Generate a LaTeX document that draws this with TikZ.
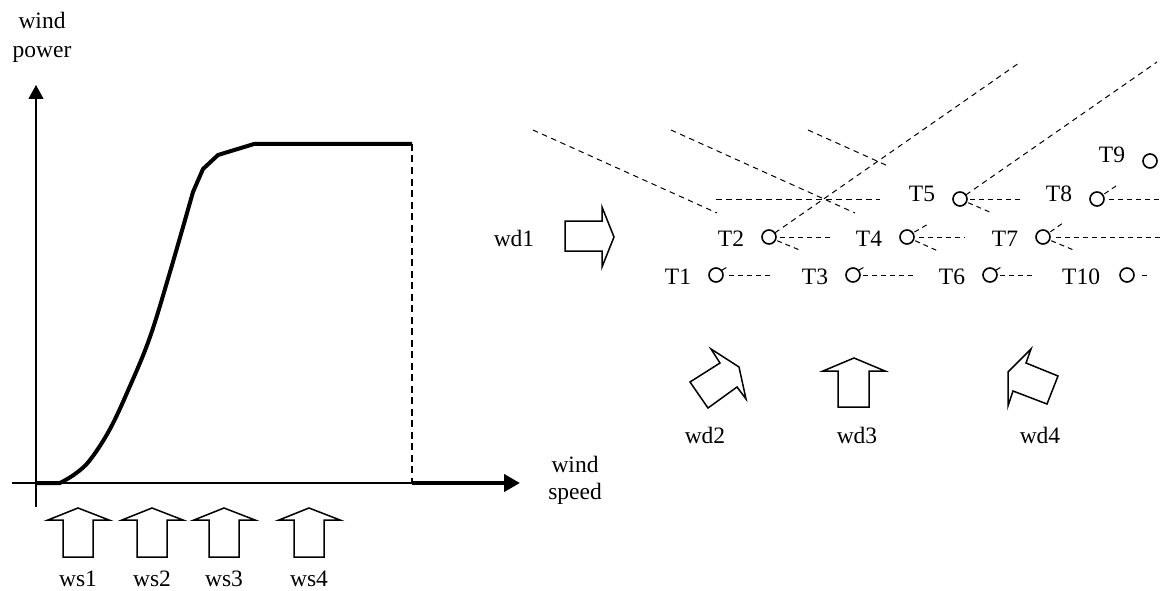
\documentclass[tikz,border=0pt]{standalone}
\usepackage{fontspec}
\setmainfont{Liberation Serif}
\usetikzlibrary{arrows.meta}
\begin{document}
\begin{tikzpicture}[x=1pt,y=-1pt,
  lbl/.style={font=\fontsize{23.5}{28}\selectfont, inner sep=0pt, outer sep=0pt},
  turb/.style={circle, draw, line width=1.6pt, minimum size=14pt, inner sep=0pt, outer sep=0pt},
  wake/.style={line width=1pt, dash pattern=on 5pt off 4pt},
  longwake/.style={line width=1pt, dash pattern=on 5.5pt off 4.5pt},
  tick/.style={line width=1pt},
  bigarrow/.style={draw, line width=1.5pt, line join=miter, miter limit=20},
  axis/.style={line width=1.2pt},
  powercurve/.style={line width=4pt, line join=round},
  cutout/.style={line width=2pt, dash pattern=on 7pt off 4.5pt}
]
\useasboundingbox (0,0) rectangle (1162,591);

% ---------------- power curve -----------------
\draw[axis] (12,483) -- (505,483);
\draw[axis, -{Triangle[length=14pt,width=15pt]}] (36,507) -- (36,85);
\draw[powercurve] (36,483) -- (60,483)
  -- plot[smooth, tension=0.6] coordinates {(60,483) (75,474) (90,460) (110,429) (130,386) (150,337) (170,272) (193,192)}
  -- (203,169) -- (218,155) -- (254,144) -- (412,144);
\draw[cutout] (412,144) -- (412,483);
\draw[line width=4pt, -{Triangle[length=16pt,width=17pt]}] (412,483) -- (520,483);

\node[lbl, anchor=base] (wpa) at (42,29) {wind};
\node[lbl, anchor=base] (wpb) at (42,58) {power};
\node[lbl, anchor=base] (wsa) at (575,472) {wind};
\node[lbl, anchor=base] (wsb) at (575,499) {speed};

% wind speed arrows
\foreach \cx/\n in {78/1,152/2,224/3,309/4}{
  \draw[bigarrow] (\cx-15,557) -- (\cx-15,520) -- (\cx-30,520) -- (\cx,508)
     -- (\cx+31,520) -- (\cx+15,520) -- (\cx+15,557) -- cycle;
  \node[lbl, anchor=base] (ws\n) at (\cx,586) {ws\n};
}

% ---------------- wind farm -----------------
\node[turb] (T1) at (716,275) {};
\node[turb] (T2) at (769,237) {};
\node[turb] (T3) at (853,275) {};
\node[turb] (T4) at (907,237) {};
\node[turb] (T5) at (960,199) {};
\node[turb] (T6) at (990,275) {};
\node[turb] (T7) at (1043,237) {};
\node[turb] (T8) at (1097,199) {};
\node[turb] (T9) at (1150,161) {};
\node[turb] (T10) at (1127,275) {};

\node[lbl, anchor=base east] (L1) at (691,284) {T1};
\node[lbl, anchor=base east] (L2) at (744,246) {T2};
\node[lbl, anchor=base east] (L3) at (828,284) {T3};
\node[lbl, anchor=base east] (L4) at (882,246) {T4};
\node[lbl, anchor=base east] (L5) at (935,201) {T5};
\node[lbl, anchor=base east] (L6) at (965,284) {T6};
\node[lbl, anchor=base east] (L7) at (1018,246) {T7};
\node[lbl, anchor=base east] (L8) at (1072,201) {T8};
\node[lbl, anchor=base east] (L9) at (1125,163) {T9};
\node[lbl, anchor=base east] (L10) at (1100,284) {T10};

% free ends of wake lines
\coordinate (h1) at (773,275);
\coordinate (h2) at (830,237);
\coordinate (h3) at (913,275);
\coordinate (h4) at (965,237);
\coordinate (h5) at (1020,199);
\coordinate (h6) at (1035,275);
\coordinate (h7) at (1160,237);
\coordinate (h8) at (1160,199);
\coordinate (h10) at (1147,275);
\coordinate (d2) at (802,251);
\coordinate (d4) at (938,251);
\coordinate (d5) at (992,213);
\coordinate (d7) at (1076,251);
\coordinate (u4) at (930,223);
\coordinate (u7) at (1063,223);
\coordinate (u8) at (1116,186);
\coordinate (e2) at (1019,63);
\coordinate (e5) at (1157,62);

% horizontal wakes
\draw[wake, shorten <=6pt] (T1.east) -- (h1);
\draw[wake, shorten <=4pt] (T2.east) -- (h2);
\draw[wake, shorten <=3pt] (T3.east) -- (h3);
\draw[wake, shorten <=5pt] (T4.east) -- (h4);
\draw[wake, shorten <=3pt] (T5.east) -- (h5);
\draw[wake, shorten <=3pt] (T6.east) -- (h6);
\draw[wake, shorten <=6pt] (T7.east) -- (h7);
\draw[wake, shorten <=5pt] (T8.east) -- (h8);
\draw[wake, shorten <=8pt] (T10.east) -- (h10);
% diagonal wakes
\draw[wake, shorten <=2pt] (T2.-25) -- (d2);
\draw[wake, shorten <=2pt] (T4.-25) -- (d4);
\draw[wake, shorten <=2pt] (T5.-25) -- (d5);
\draw[wake, shorten <=2pt] (T7.-25) -- (d7);
\draw[wake, shorten <=2pt] (T4.35) -- (u4);
\draw[wake, shorten <=2pt] (T7.35) -- (u7);
\draw[wake, shorten <=2pt] (T8.35) -- (u8);
\draw[longwake] (T2.35) -- (e2);
\draw[longwake] (T5.35) -- (e5);
% small ticks
\draw[tick] (T1.40) -- ++(5,-3);
\draw[tick] (T3.40) -- ++(5,-3);
\draw[tick] (T6.40) -- ++(5,-3);

% wake boundaries
\coordinate (a1) at (533,130); \coordinate (a2) at (717,213);
\coordinate (b1) at (671,130); \coordinate (b2) at (855,213);
\coordinate (c1) at (808,130); \coordinate (c2) at (888,166);
\coordinate (f1) at (716,199); \coordinate (f2) at (880,199);
\draw[longwake] (a1) -- (a2);
\draw[longwake] (b1) -- (b2);
\draw[longwake] (c1) -- (c2);
\draw[longwake] (f1) -- (f2);

% wind direction arrows
\draw[bigarrow] (565,221) -- (602,221) -- (602,207) -- (614,237) -- (602,267) -- (602,251) -- (565,251) -- cycle;
\node[lbl, anchor=base] (wd1) at (514,246) {wd1};
\draw[bigarrow] (711,349) -- (720,363) -- (690,382) -- (708,408) -- (737,387) -- (746,399) -- (739,367) -- cycle;
\node[lbl, anchor=base] (wd2) at (705,443) {wd2};
\draw[bigarrow] (838,407) -- (838,371) -- (823,371) -- (854,358) -- (885,371) -- (869,371) -- (869,407) -- cycle;
\node[lbl, anchor=base] (wd3) at (857,443) {wd3};
\draw[bigarrow] (1031,349) -- (1026,363) -- (1058,376) -- (1047,404) -- (1013,391) -- (1008,406) -- (1008,372) -- cycle;
\node[lbl, anchor=base] (wd4) at (1040,443) {wd4};
\end{tikzpicture}
\end{document}
